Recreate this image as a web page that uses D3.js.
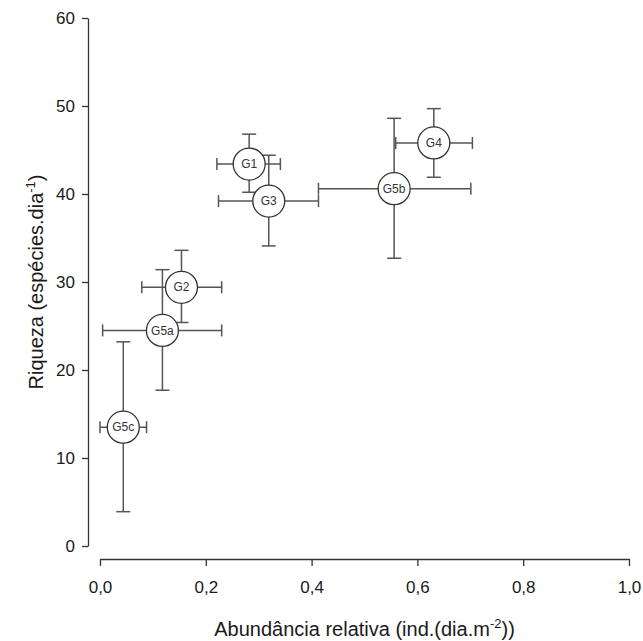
<!DOCTYPE html>
<html>
<head>
<meta charset="utf-8">
<script src="https://cdn.jsdelivr.net/npm/d3@7"></script>
<style>
  html, body { margin: 0; padding: 0; background: #fff; }
  svg { display: block; font-family: "Liberation Sans", Arial, sans-serif; }
</style>
</head>
<body>
<svg id="chart" width="643" height="641"></svg>
<script>
// ---- data ----
const groups     = ["G1", "G2", "G3", "G4", "G5a", "G5b", "G5c"];
const abundance  = [0.282, 0.154, 0.319, 0.631, 0.118, 0.556, 0.044];
const abundLow   = [0.221, 0.079, 0.224, 0.559, 0.005, 0.413, 0.000];
const abundHigh  = [0.341, 0.230, 0.413, 0.704, 0.230, 0.701, 0.088];
const richness   = [43.4, 29.4, 39.2, 45.8, 24.5, 40.6, 13.5];
const richLow    = [40.2, 25.4, 34.1, 41.9, 17.7, 32.7, 3.9];
const richHigh   = [46.8, 33.6, 44.4, 49.7, 31.4, 48.6, 23.2];
const xTicks     = [0, 0.2, 0.4, 0.6, 0.8, 1.0];
const yTicks     = [0, 10, 20, 30, 40, 50, 60];
const xTitle     = "Abundância relativa (ind.(dia.m";
const yTitle     = "Riqueza (espécies.dia";

const points = groups.map((g, i) => ({
  g, x: abundance[i], xl: abundLow[i], xh: abundHigh[i],
  y: richness[i], yl: richLow[i], yh: richHigh[i]
}));

const svg = d3.select("#chart");
const x = d3.scaleLinear().domain([0, 1]).range([100, 629]);
const y = d3.scaleLinear().domain([0, 60]).range([546, 18]);

const axisColor = "#333";

// X axis
const gx = svg.append("g").attr("transform", "translate(0,559)")
  .call(d3.axisBottom(x).tickValues(xTicks).tickSize(7).tickSizeOuter(0).tickPadding(15)
    .tickFormat(d => d.toFixed(1).replace(".", ",")));
// Y axis
const gy = svg.append("g").attr("transform", "translate(88,0)")
  .call(d3.axisLeft(y).tickValues(yTicks).tickSize(6).tickSizeOuter(0).tickPadding(7)
    .tickFormat(d3.format("d")));

[gx, gy].forEach(g => {
  g.select(".domain").attr("stroke", axisColor).attr("stroke-width", 1.3);
  g.selectAll(".tick line").attr("stroke", axisColor).attr("stroke-width", 1.3);
  g.selectAll(".tick text").attr("fill", "#1a1a1a").style("font-size", "17px")
    .style("font-family", "\"Liberation Sans\", Arial, sans-serif");
});

// Titles
const xt = svg.append("text").attr("x", 364.5).attr("y", 636).attr("text-anchor", "middle")
  .attr("fill", "#1a1a1a").style("font-size", "20px");
xt.append("tspan").text(xTitle);
xt.append("tspan").attr("dy", -8).style("font-size", "13px").text("-2");
xt.append("tspan").attr("dy", 8).text("))");

const yt = svg.append("text").attr("transform", "translate(43,282) rotate(-90)")
  .attr("text-anchor", "middle").attr("fill", "#1a1a1a").style("font-size", "20px");
yt.append("tspan").text(yTitle);
yt.append("tspan").attr("dy", -8).style("font-size", "13px").text("-1");
yt.append("tspan").attr("dy", 8).text(")");

// Error bars
const barColor = "#555";
const eb = svg.append("g").attr("stroke", barColor).attr("stroke-width", 1.5).attr("fill", "none");
const capV = 7, capH = 6;
points.forEach(p => {
  const cx = x(p.x), cy = y(p.y);
  // vertical
  eb.append("line").attr("x1", cx).attr("x2", cx).attr("y1", y(p.yl)).attr("y2", y(p.yh));
  eb.append("line").attr("x1", cx - capV).attr("x2", cx + capV).attr("y1", y(p.yl)).attr("y2", y(p.yl));
  eb.append("line").attr("x1", cx - capV).attr("x2", cx + capV).attr("y1", y(p.yh)).attr("y2", y(p.yh));
  // horizontal
  eb.append("line").attr("x1", x(p.xl)).attr("x2", x(p.xh)).attr("y1", cy).attr("y2", cy);
  eb.append("line").attr("x1", x(p.xl)).attr("x2", x(p.xl)).attr("y1", cy - capH).attr("y2", cy + capH);
  eb.append("line").attr("x1", x(p.xh)).attr("x2", x(p.xh)).attr("y1", cy - capH).attr("y2", cy + capH);
});

// Circles + labels
const pts = svg.append("g").selectAll("g").data(points).join("g")
  .attr("transform", d => `translate(${x(d.x)},${y(d.y)})`);
pts.append("circle").attr("r", 16).attr("fill", "#fff").attr("stroke", "#333").attr("stroke-width", 1.3);
pts.append("text").attr("text-anchor", "middle").attr("dy", "0.35em")
  .attr("fill", "#333").style("font-size", "12px").text(d => d.g);
</script>
</body>
</html>
